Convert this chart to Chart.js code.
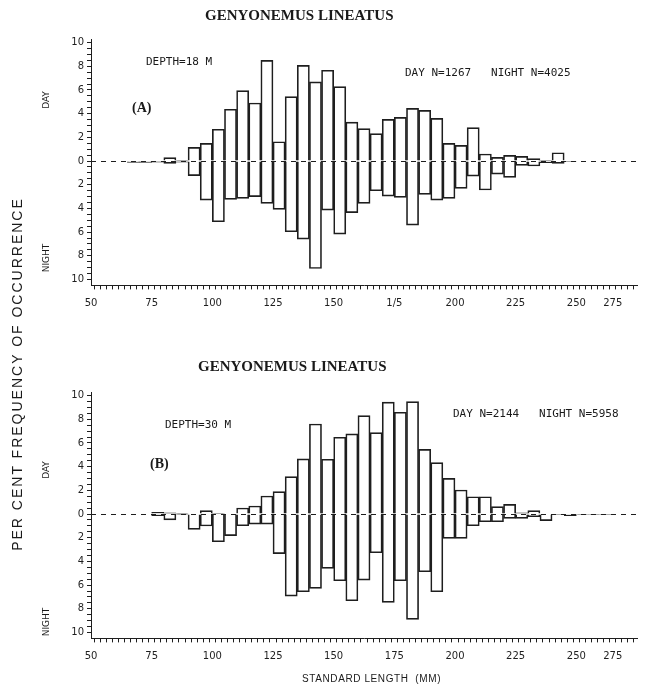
<!DOCTYPE html>
<html>
<head>
<meta charset="utf-8">
<script src="https://cdn.jsdelivr.net/npm/chart.js@4.4.1/dist/chart.umd.min.js"></script>
<style>
  html, body { margin:0; padding:0; background:#fff; }
  #page { position:relative; width:645px; height:686px; overflow:hidden; background:#fff; }
  canvas { position:absolute; left:0; }
  .t { position:absolute; color:#1a1a1a; white-space:nowrap; }
  .title { font-family:"Liberation Serif", serif; font-weight:bold; font-size:15px; }
  .plot { font-family:"DejaVu Sans Mono", monospace; font-size:11px; }
  .panel { font-family:"Liberation Serif", serif; font-weight:bold; font-size:14px; }
  .rot { transform:translate(-50%,-50%) rotate(-90deg); }
  .side { font-family:"DejaVu Sans", sans-serif; font-size:9px; }
</style>
</head>
<body>
<div id="page">
  <canvas id="cA" width="645" height="325" style="top:0"></canvas>
  <canvas id="cB" width="645" height="361" style="top:325px"></canvas>

  <div class="t title" style="left:205px; top:7px;">GENYONEMUS LINEATUS</div>
  <div class="t plot" style="left:146px; top:55px;">DEPTH=18 M</div>
  <div class="t panel" style="left:132px; top:100px;">(A)</div>
  <div class="t plot" style="left:405px; top:66px;">DAY N=1267&nbsp;&nbsp;&nbsp;NIGHT N=4025</div>
  <div class="t side rot" style="left:46px; top:100px;">DAY</div>
  <div class="t side rot" style="left:46px; top:258px;">NIGHT</div>

  <div class="t title" style="left:198px; top:358px;">GENYONEMUS LINEATUS</div>
  <div class="t plot" style="left:165px; top:418px;">DEPTH=30 M</div>
  <div class="t panel" style="left:150px; top:456px;">(B)</div>
  <div class="t plot" style="left:453px; top:407px;">DAY N=2144&nbsp;&nbsp;&nbsp;NIGHT N=5958</div>
  <div class="t side rot" style="left:46px; top:470px;">DAY</div>
  <div class="t side rot" style="left:46px; top:622px;">NIGHT</div>

  <div class="t rot" style="left:17px; top:374px; font-family:'Liberation Sans',sans-serif; font-size:14px; letter-spacing:2px;">PER CENT FREQUENCY OF OCCURRENCE</div>
  <div class="t" style="left:302px; top:673px; font-family:'Liberation Sans',sans-serif; font-size:10px; letter-spacing:0.6px;">STANDARD LENGTH &nbsp;(MM)</div>
</div>

<script>
// ---- DATA ----
// bin lower edges (mm), 5 mm bins
const binWidth = 5;
const lengthA = [65,70,75,80,85,90,95,100,105,110,115,120,125,130,135,140,145,150,155,160,165,170,175,180,185,190,195,200,205,210,215,220,225,230,235,240,245];
const dayA    = [0,0,0,0.28,0.05,1.15,1.49,2.68,4.37,5.94,4.9,8.5,1.63,5.44,8.08,6.68,7.66,6.28,3.28,2.73,2.31,3.52,3.69,4.45,4.28,3.6,1.49,1.32,2.82,0.59,0.31,0.48,0.39,0.2,0.03,0.7,0];
const nightA  = [0.12,0.12,0.1,0.2,0.1,1.24,3.3,5.13,3.24,3.15,3.01,3.58,4.08,5.97,6.59,9.07,4.14,6.17,4.36,3.58,2.51,2.96,3.07,5.41,2.82,3.3,3.15,2.31,1.27,2.45,1.1,1.38,0.37,0.42,0.15,0.2,0.06];

const lengthB = [75,80,85,90,95,100,105,110,115,120,125,130,135,140,145,150,155,160,165,170,175,180,185,190,195,200,205,210,215,220,225,230,235,240,245,250,255,260];
const dayB    = [0.14,0.11,0.05,0,0.28,0.05,0,0.51,0.68,1.52,1.89,3.15,4.65,7.6,4.62,6.48,6.76,8.31,6.87,9.44,8.59,9.49,5.46,4.34,3.01,2.03,1.46,1.46,0.62,0.82,0.11,0.28,0,0,0,0,0,0];
const nightB  = [0.14,0.5,0.06,1.3,1.01,2.34,1.83,0.99,0.85,0.85,3.35,6.93,6.56,6.28,4.59,5.63,7.32,5.58,3.27,7.46,5.63,8.9,4.87,6.56,2.06,2.06,0.99,0.65,0.65,0.37,0.37,0.23,0.56,0.05,0.14,0.05,0.05,0.05];

const xTickValues = [50,75,100,125,150,175,200,225,250,275];
const xLabelsA = ['50','75','100','125','150','1/5','200','225','250','275'];
const xLabelsB = ['50','75','100','125','150','175','200','225','250','275'];
const yTickValues = [10,8,6,4,2,0,-2,-4,-6,-8,-10];

// ---- CHART ----
const INK = '#1e1e1e';

const zeroLine = {
  id:'zeroLine',
  afterDatasetsDraw(chart){
    const {ctx, chartArea:a, scales:{y}} = chart;
    const py = Math.round(y.getPixelForValue(0)) + 0.5;
    ctx.save();
    ctx.strokeStyle = INK; ctx.lineWidth = 1;
    ctx.setLineDash([5,5]);
    ctx.beginPath(); ctx.moveTo(a.left, py); ctx.lineTo(a.right, py); ctx.stroke();
    ctx.restore();
  }
};

function makeChart(id, lengths, day, night, xLabels, xAxisHeight, padTop){
  const pts = (arr, sign) => lengths.map((l,i)=>({x:l+binWidth/2, y:sign*arr[i]}));
  const dsStyle = {backgroundColor:'rgba(0,0,0,0)', borderColor:INK, borderWidth:1,
                   barThickness:'flex', barPercentage:1, categoryPercentage:1};
  return new Chart(document.getElementById(id), {
    type:'bar',
    data:{ datasets:[
      Object.assign({label:'DAY', data:pts(day,1)}, dsStyle),
      Object.assign({label:'NIGHT', data:pts(night,-1)}, dsStyle)
    ]},
    options:{
      responsive:false, animation:false, devicePixelRatio:1,
      layout:{padding:{top:padTop, right:2, left:0, bottom:0}},
      plugins:{legend:{display:false}, tooltip:{enabled:false}},
      scales:{
        x:{ type:'linear', min:50, max:275, stacked:true, offset:false,
            afterFit(s){ s.height = xAxisHeight; },
            afterBuildTicks(s){ const t=[]; for(let v=50; v<=275; v+=2.5) t.push({value:v}); s.ticks=t; },
            grid:{drawOnChartArea:false, drawTicks:true, tickLength:4, color:INK, tickColor:INK},
            border:{display:true, color:INK, width:1},
            ticks:{ autoSkip:false, maxRotation:0, padding:8, color:INK,
                    font:{family:'DejaVu Sans', size:10},
                    callback(v){
                      if (v===275) return '';
                      if (v===265) return xLabels[xLabels.length-1];
                      const i = xTickValues.indexOf(v);
                      return i>=0 ? xLabels[i] : '';
                    } } },
        y:{ type:'linear', min:-10.5, max:10.3, stacked:true,
            afterFit(s){ s.width = 91; },
            afterBuildTicks(s){ const t=[]; for(let v=-10; v<=10; v+=0.5) t.push({value:v}); s.ticks=t; },
            grid:{drawOnChartArea:false, drawTicks:true, tickLength:4, color:INK, tickColor:INK},
            border:{display:true, color:INK, width:1},
            ticks:{ autoSkip:false, padding:3, color:INK,
                    font:{family:'DejaVu Sans', size:10},
                    callback(v){ return yTickValues.includes(v) ? String(Math.abs(v)) : ''; } } }
      }
    },
    plugins:[zeroLine]
  });
}

makeChart('cA', lengthA, dayA, nightA, xLabelsA, 325-285.4, 39);
makeChart('cB', lengthB, dayB, nightB, xLabelsB, 361-313.4, 67);
</script>
</body>
</html>
